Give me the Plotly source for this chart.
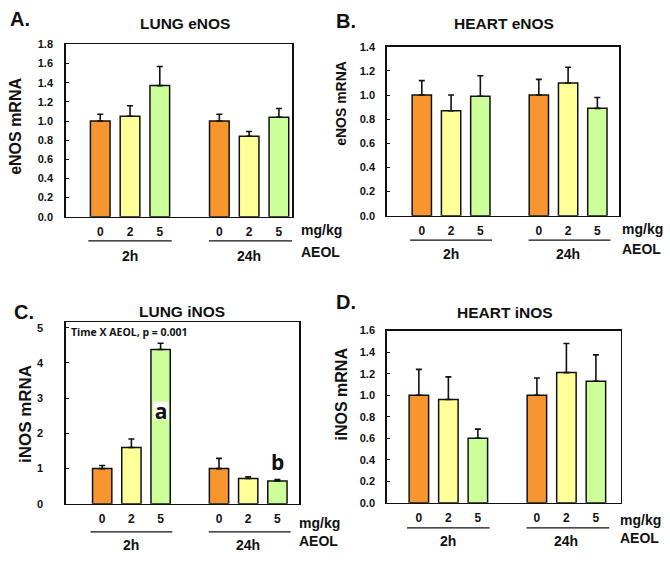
import plotly.graph_objects as go

W, H = 670, 562

doses = ["0", "2", "5"]
times = ["2h", "24h"]
colors = ["#F7962F", "#FFFF99", "#CCFF99"]

lung_enos_2h = [1.00, 1.05, 1.37]
lung_enos_2h_err = [0.07, 0.11, 0.20]
lung_enos_24h = [1.00, 0.84, 1.04]
lung_enos_24h_err = [0.07, 0.05, 0.09]

heart_enos_2h = [1.00, 0.87, 0.99]
heart_enos_2h_err = [0.12, 0.13, 0.17]
heart_enos_24h = [1.00, 1.10, 0.89]
heart_enos_24h_err = [0.13, 0.13, 0.09]

lung_inos_2h = [1.00, 1.60, 4.38]
lung_inos_2h_err = [0.09, 0.24, 0.18]
lung_inos_24h = [1.00, 0.72, 0.65]
lung_inos_24h_err = [0.29, 0.05, 0.04]

heart_inos_2h = [1.00, 0.96, 0.60]
heart_inos_2h_err = [0.24, 0.21, 0.085]
heart_inos_24h = [1.00, 1.21, 1.13]
heart_inos_24h_err = [0.16, 0.27, 0.245]

FONT = "Liberation Sans, Arial, sans-serif"


def px(x):
    return x / W


def py(y):
    return 1 - y / H


panels = [
    dict(letter="A.", title="LUNG eNOS", ytitle="eNOS mRNA",
         v2=lung_enos_2h, e2=lung_enos_2h_err, v24=lung_enos_24h, e24=lung_enos_24h_err,
         box=(65.7, 292, 39.3, 215.3), xr=[-1.16, 6.44], yr=[0, 1.8], dtick=0.2, fmt=".1f",
         letter_xy=(8, 13), title_xy=(185, 18), ytitle_xy=(15.5, 123), ytitle_size=16,
         mg_xy=(299, 229), aeol_xy=(299, 251), standoff=9,
         dose_y=229, line_y=240, grp_y=255),
    dict(letter="B.", title="HEART eNOS", ytitle="eNOS mRNA",
         v2=heart_enos_2h, e2=heart_enos_2h_err, v24=heart_enos_24h, e24=heart_enos_24h_err,
         box=(386.7, 619.3, 41.7, 214.3), xr=[-1.2, 6.75], yr=[0, 1.4], dtick=0.2, fmt=".1f",
         letter_xy=(334, 15), title_xy=(504, 18), ytitle_xy=(341, 100), ytitle_size=14,
         mg_xy=(620, 228), aeol_xy=(620, 248), standoff=8,
         dose_y=228, line_y=239.3, grp_y=253),
    dict(letter="C.", title="LUNG iNOS", ytitle="iNOS mRNA",
         v2=lung_inos_2h, e2=lung_inos_2h_err, v24=lung_inos_24h, e24=lung_inos_24h_err,
         box=(65.7, 299.3, 323.3, 508.7), xr=[-1.25, 6.75], yr=[0, 5.15], dtick=1, fmt="d",
         letter_xy=(12, 313), title_xy=(182, 312), ytitle_xy=(25, 417), ytitle_size=17,
         mg_xy=(296.7, 528), aeol_xy=(296.7, 547), standoff=19,
         dose_y=526.7, line_y=537.3, grp_y=550.7),
    dict(letter="D.", title="HEART iNOS", ytitle="iNOS mRNA",
         v2=heart_inos_2h, e2=heart_inos_2h_err, v24=heart_inos_24h, e24=heart_inos_24h_err,
         box=(386.7, 620.7, 331.7, 507.7), xr=[-1.09, 6.84], yr=[0, 1.6], dtick=0.2, fmt=".1f",
         letter_xy=(334, 302), title_xy=(505, 313), ytitle_xy=(342, 397), ytitle_size=16,
         mg_xy=(617.7, 525), aeol_xy=(617.7, 544), standoff=8,
         dose_y=520.7, line_y=533.3, grp_y=546.7),
]

fig = go.Figure()
annotations = []
shapes = []
layout = {}

for i, p in enumerate(panels):
    n = "" if i == 0 else str(i + 1)
    xa, ya = "x" + n, "y" + n
    x0, x1, y0, y1 = p["box"]
    for d in range(3):
        fig.add_trace(go.Bar(
            x=[d, 4 + d], y=[p["v2"][d], p["v24"][d]],
            xaxis=xa, yaxis=ya, width=0.66,
            marker=dict(color=colors[d], line=dict(color="#111111", width=1.5)),
            error_y=dict(type="data", symmetric=False,
                         array=[p["e2"][d], p["e24"][d]], arrayminus=[0, 0],
                         color="#111111", thickness=1.6, width=3),
            showlegend=False, hoverinfo="skip",
        ))
    layout["xaxis" + n] = dict(
        domain=[px(x0), px(x1)], anchor=ya, range=p["xr"],
        tickvals=[0, 1, 2, 4, 5, 6], ticktext=doses * 2, ticks="",
        tickfont=dict(family=FONT, size=12, color="#111111", weight="bold"),
        showline=True, mirror=True, linecolor="#111111", linewidth=1.5,
        showgrid=False, zeroline=False, ticklabelstandoff=3, fixedrange=True,
    )
    layout["yaxis" + n] = dict(
        domain=[py(y1), py(y0)], anchor=xa, range=p["yr"], dtick=p["dtick"],
        tickformat=p["fmt"], ticks="inside", ticklen=3, tickcolor="#111111",
        tickfont=dict(family=FONT, size=11, color="#111111", weight="bold"),
        showline=True, mirror=True, linecolor="#111111", linewidth=1.5,
        showgrid=False, zeroline=False, ticklabelstandoff=p["standoff"], fixedrange=True,
    )
    for g, (a, b) in enumerate([(-0.4, 2.4), (3.65, 6.45)]):
        shapes.append(dict(type="line", xref=xa, yref="paper", x0=a, x1=b,
                           y0=py(p["line_y"]), y1=py(p["line_y"]),
                           line=dict(color="#111111", width=1.3)))
        annotations.append(dict(xref=xa, yref="paper", x=1 + 4 * g, y=py(p["grp_y"]),
                                text=times[g], showarrow=False, xanchor="center", yanchor="middle",
                                font=dict(family=FONT, size=14, color="#111111", weight="bold")))
    annotations.append(dict(xref="paper", yref="paper", x=px(p["mg_xy"][0]), y=py(p["mg_xy"][1]),
                            text="mg/kg", showarrow=False, xanchor="left", yanchor="middle",
                            font=dict(family=FONT, size=14, color="#111111", weight="bold")))
    annotations.append(dict(xref="paper", yref="paper", x=px(p["aeol_xy"][0]), y=py(p["aeol_xy"][1]),
                            text="AEOL", showarrow=False, xanchor="left", yanchor="middle",
                            font=dict(family=FONT, size=14, color="#111111", weight="bold")))
    annotations.append(dict(xref="paper", yref="paper", x=px(p["letter_xy"][0]), y=py(p["letter_xy"][1]),
                            text=p["letter"], showarrow=False, xanchor="left", yanchor="middle",
                            font=dict(family=FONT, size=20, color="#111111", weight="bold")))
    annotations.append(dict(xref="paper", yref="paper", x=px(p["title_xy"][0]), y=py(p["title_xy"][1]),
                            text=p["title"], showarrow=False, xanchor="center", yanchor="middle",
                            font=dict(family=FONT, size=15.5, color="#111111", weight="bold")))
    annotations.append(dict(xref="paper", yref="paper", x=px(p["ytitle_xy"][0]), y=py(p["ytitle_xy"][1]),
                            text=p["ytitle"], showarrow=False, xanchor="center", yanchor="middle",
                            textangle=-90,
                            font=dict(family=FONT, size=p["ytitle_size"], color="#111111", weight="bold")))

annotations.append(dict(xref="paper", yref="paper", x=px(68.5), y=py(333.5),
                        text="Time X AEOL, p = 0.001", showarrow=False, xanchor="left", yanchor="middle",
                        font=dict(family="Open Sans, sans-serif", size=10.5, color="#111111", weight="bold")))
annotations.append(dict(xref="x3", yref="y3", x=2, y=2.65, text="a", showarrow=False,
                        xanchor="center", yanchor="middle", bgcolor="white", borderpad=0,
                        width=14, height=17,
                        font=dict(family="Open Sans, sans-serif", size=21, color="#111111", weight="bold")))
annotations.append(dict(xref="x3", yref="y3", x=6, y=1.19, text="b", showarrow=False,
                        xanchor="center", yanchor="middle",
                        font=dict(family="Open Sans, sans-serif", size=21, color="#111111", weight="bold")))

fig.update_layout(
    width=W, height=H, margin=dict(l=0, r=0, t=0, b=0),
    paper_bgcolor="white", plot_bgcolor="white",
    showlegend=False, bargap=0, barmode="overlay",
    annotations=annotations, shapes=shapes,
    **layout,
)

fig.write_html("out.html", config={"displayModeBar": False, "staticPlot": True},
               post_script="document.body.style.margin='0';document.body.style.overflow='hidden';")
